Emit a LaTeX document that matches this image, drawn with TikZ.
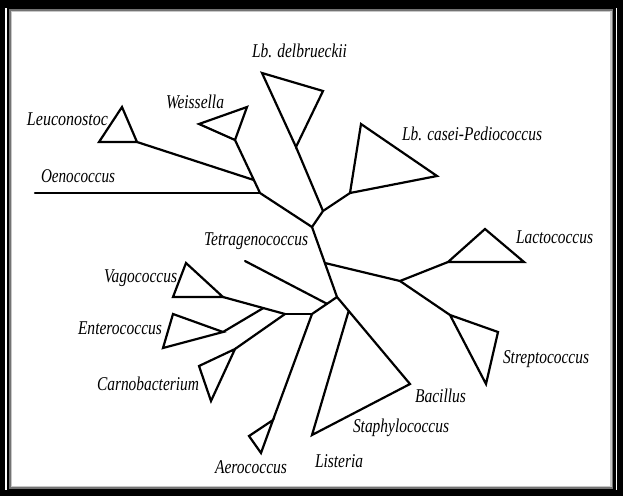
\documentclass[tikz,border=0pt]{standalone}
\usepackage{fontspec}
\setmainfont{Liberation Serif}
\usepackage{graphicx}
\usetikzlibrary{calc}
\newcommand{\taxlab}[2]{\resizebox{#1pt}{\height}{\fontsize{19.5}{22}\selectfont\itshape #2}}
\begin{document}
\begin{tikzpicture}[x=1pt,y=-1pt,
  br/.style={line width=2.2pt,line cap=round,line join=miter},
  lab/.style={anchor=base west,inner sep=0pt,outer sep=0pt}]
\useasboundingbox (0,0) rectangle (623,496);
% frame
\fill[black] (0,0) rectangle (623,496);
\fill[white] (5.4,8) rectangle (616.6,490);
\fill[black] (6.7,8) rectangle (615.5,490);
\fill[black!55] (9.2,9.2) rectangle (613.2,488.5);
\fill[black!22] (10.6,10.6) rectangle (611.8,487);
\fill[white] (12,12) rectangle (610.4,485.5);

% coordinates
\coordinate (A) at (323,211);
\coordinate (B) at (312,227);
\coordinate (C) at (337,297);
\coordinate (Lc) at ($(B)!0.514!(C)$);
\coordinate (Lj) at (400,281);
\coordinate (D) at (312,314);
\coordinate (T) at ($(C)!0.4!(D)$);
\coordinate (Tf) at (245,261);
\coordinate (E) at (285,314);
\coordinate (V) at (223,297);
\coordinate (F) at ($(E)!0.35!(V)$);
\coordinate (O) at (260,193);
\coordinate (Of) at (35,193);
\coordinate (W) at (235,140);
\coordinate (L) at ($(O)!0.245!(W)$);
% triangles vertices
\coordinate (lu1) at (137,142); \coordinate (lu2) at (99,142); \coordinate (lu3) at (122,107);
\coordinate (w2) at (199,124); \coordinate (w3) at (247,107);
\coordinate (d1) at (296,147); \coordinate (d2) at (262,73); \coordinate (d3) at (323,91);
\coordinate (c1) at (350,193); \coordinate (c2) at (361,124); \coordinate (c3) at (437,176);
\coordinate (la1) at (448,262); \coordinate (la2) at (485,229); \coordinate (la3) at (524,262);
\coordinate (s1) at (450,315); \coordinate (s2) at (498,332); \coordinate (s3) at (486,384);
\coordinate (bp) at (410,384); \coordinate (bq) at (312,435);
\coordinate (ba) at ($(C)!0.16!(bp)$);
\coordinate (a1) at (273,420); \coordinate (a2) at (249,436); \coordinate (a3) at (261,453);
\coordinate (v2) at (173,297); \coordinate (v3) at (186,263);
\coordinate (e1) at (223,332); \coordinate (e2) at (173,314); \coordinate (e3) at (163,348);
\coordinate (k1) at (235,349); \coordinate (k2) at (199,366); \coordinate (k3) at (211,401);

% branches
\draw[br] (A) -- (B) -- (C);
\draw[br] (A) -- (d1);
\draw[br] (d1) -- (d2) -- (d3) -- cycle;
\draw[br] (A) -- (c1);
\draw[br] (c1) -- (c2) -- (c3) -- cycle;
\draw[br] (B) -- (O);
\draw[br] (Of) -- (O);
\draw[br] (O) -- (W);
\draw[br] (W) -- (w2) -- (w3) -- cycle;
\draw[br] (L) -- (lu1);
\draw[br] (lu1) -- (lu2) -- (lu3) -- cycle;
\draw[br] (Lc) -- (Lj);
\draw[br] (Lj) -- (la1);
\draw[br] (la1) -- (la2) -- (la3) -- cycle;
\draw[br] (Lj) -- (s1);
\draw[br] (s1) -- (s2) -- (s3) -- cycle;
\draw[br] (C) -- (bp) -- (bq) -- (ba);
\draw[br] (C) -- (D);
\draw[br] (Tf) -- (T);
\draw[br] (D) -- (E);
\draw[br] (D) -- (a1);
\draw[br] (a1) -- (a2) -- (a3) -- cycle;
\draw[br] (E) -- (V);
\draw[br] (V) -- (v2) -- (v3) -- cycle;
\draw[br] (F) -- (e1);
\draw[br] (e1) -- (e2) -- (e3) -- cycle;
\draw[br] (E) -- (k1);
\draw[br] (k1) -- (k2) -- (k3) -- cycle;

% labels
\node[lab] (nDel) at (252,57.5) {\taxlab{95}{Lb. delbrueckii}};
\node[lab] (nWei) at (166,108.5) {\taxlab{58}{Weissella}};
\node[lab] (nLeu) at (27,125.5) {\taxlab{81}{Leuconostoc}};
\node[lab] (nOen) at (41,182.7) {\taxlab{74}{Oenococcus}};
\node[lab] (nTet) at (204,245.5) {\taxlab{104}{Tetragenococcus}};
\node[lab] (nCas) at (402,140.7) {\taxlab{140}{Lb. casei-Pediococcus}};
\node[lab] (nLac) at (516,243.5) {\taxlab{77}{Lactococcus}};
\node[lab] (nVag) at (104,282.5) {\taxlab{73}{Vagococcus}};
\node[lab] (nEnt) at (78,334.5) {\taxlab{84}{Enterococcus}};
\node[lab] (nCar) at (97,390.5) {\taxlab{102}{Carnobacterium}};
\node[lab] (nAer) at (215,473.5) {\taxlab{72}{Aerococcus}};
\node[lab] (nLis) at (315,467.5) {\taxlab{48}{Listeria}};
\node[lab] (nSta) at (353,432.5) {\taxlab{96}{Staphylococcus}};
\node[lab] (nBac) at (415,402.5) {\taxlab{51}{Bacillus}};
\node[lab] (nStr) at (503,363.5) {\taxlab{86}{Streptococcus}};
\end{tikzpicture}
\end{document}
